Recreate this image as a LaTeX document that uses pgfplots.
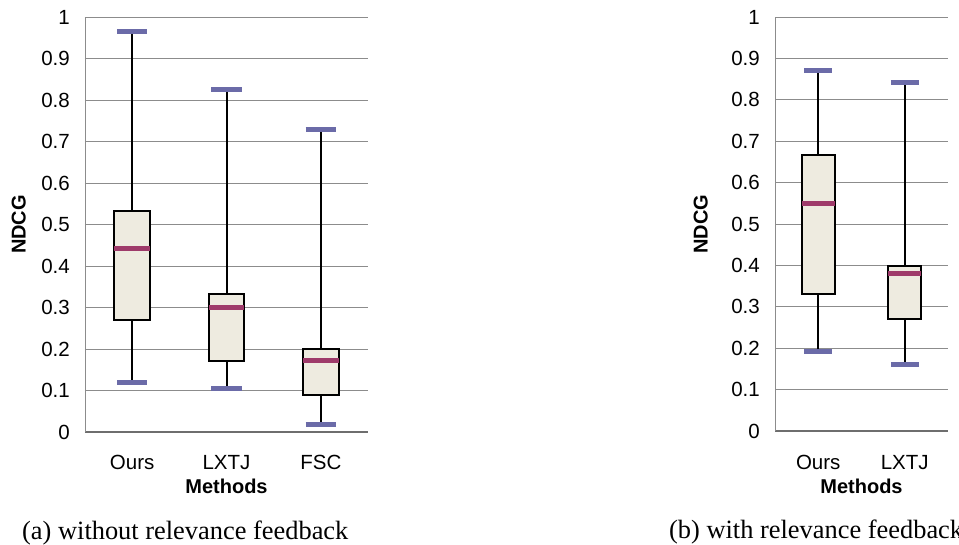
\documentclass[border=0pt]{standalone}
\usepackage{fontspec}
\setmainfont{Liberation Sans}
\newfontfamily\capfont{Liberation Serif}
\usepackage{pgfplots}
\pgfplotsset{compat=1.18}
\usepgfplotslibrary{statistics}
\definecolor{boxc}{HTML}{EEEBE0}
\definecolor{medc}{HTML}{9E3A6A}
\definecolor{capc}{HTML}{6B6BA8}
\definecolor{gridc}{HTML}{8C8C8C}
\definecolor{axc}{HTML}{6E6E6E}
\pgfplotsset{
  ndcg/.style={
    anchor=south west, scale only axis,
    ymin=0, ymax=1,
    ytick={0,0.1,0.2,0.3,0.4,0.5,0.6,0.7,0.8,0.9,1},
    major tick length=0pt,
    ymajorgrids, grid style={gridc, line width=0.8pt},
    axis x line*=bottom, axis y line*=left,
    x axis line style={-, draw=axc, line width=1.8pt},
    y axis line style={-, draw=gridc, line width=0.8pt},
    /pgf/number format/assume math mode=true,
    tick label style={font=\fontsize{20.5}{24}\selectfont},
    yticklabel style={anchor=east, inner sep=0pt, xshift=-15pt},
    xticklabel style={anchor=north, inner sep=0pt, yshift=-23pt},
    xlabel={Methods}, ylabel={NDCG},
    xlabel style={at={(axis description cs:0.5,0)}, anchor=north, inner sep=0pt, yshift=-47pt, font=\bfseries\fontsize{20}{24}\selectfont},
    ylabel style={anchor=south, inner sep=0pt, font=\bfseries\fontsize{20}{24}\selectfont},
    clip=false,
    boxplot/draw direction=y,
    boxplot/box extend=0.38,
    boxplot/whisker extend=0.32,
    boxplot/every box/.style={fill=boxc, draw=black, line width=2pt},
    boxplot/every median/.style={medc, line width=5pt},
    boxplot/draw/lower whisker/.code={%
      \draw[black, line width=2pt] (boxplot cs:\pgfplotsboxplotvalue{lower whisker}) -- (boxplot cs:\pgfplotsboxplotvalue{lower quartile});
      \draw[capc, line width=5pt] (boxplot whisker cs:\pgfplotsboxplotvalue{lower whisker},0) -- (boxplot whisker cs:\pgfplotsboxplotvalue{lower whisker},1);
    },
    boxplot/draw/upper whisker/.code={%
      \draw[black, line width=2pt] (boxplot cs:\pgfplotsboxplotvalue{upper whisker}) -- (boxplot cs:\pgfplotsboxplotvalue{upper quartile});
      \draw[capc, line width=5pt] (boxplot whisker cs:\pgfplotsboxplotvalue{upper whisker},0) -- (boxplot whisker cs:\pgfplotsboxplotvalue{upper whisker},1);
    },
  }
}
\begin{document}
\begin{tikzpicture}
% (a) without relevance feedback
\begin{axis}[ndcg,
  at={(85pt,112pt)}, width=283pt, height=415pt,
  xmin=0.5, xmax=3.5,
  xtick={1,2,3}, xticklabels={Ours,LXTJ,FSC},
  ylabel style={at={(axis description cs:-0.2085,0.5)}},
]
\addplot[black, boxplot prepared={draw position=1,
  lower whisker=0.120, lower quartile=0.270, median=0.443,
  upper quartile=0.533, upper whisker=0.965}] coordinates {};
\addplot[black, boxplot prepared={draw position=2,
  lower whisker=0.104, lower quartile=0.171, median=0.300,
  upper quartile=0.332, upper whisker=0.826}] coordinates {};
\addplot[black, boxplot prepared={draw position=3,
  lower whisker=0.018, lower quartile=0.089, median=0.173,
  upper quartile=0.199, upper whisker=0.728}] coordinates {};
\end{axis}
% (b) with relevance feedback
\begin{axis}[ndcg,
  at={(775pt,113pt)}, width=173pt, height=414pt,
  xmin=0.5, xmax=2.5,
  xtick={1,2}, xticklabels={Ours,LXTJ},
  xticklabel style={yshift=-1pt},
  xlabel style={yshift=-1pt},
  ylabel style={at={(axis description cs:-0.387,0.5)}},
]
\addplot[black, boxplot prepared={draw position=1,
  lower whisker=0.191, lower quartile=0.332, median=0.550,
  upper quartile=0.666, upper whisker=0.870}] coordinates {};
\addplot[black, boxplot prepared={draw position=2,
  lower whisker=0.160, lower quartile=0.271, median=0.381,
  upper quartile=0.399, upper whisker=0.841}] coordinates {};
\end{axis}
\node[anchor=base west, inner sep=0pt, font=\capfont\fontsize{26.4}{30}\selectfont] at (22pt,5pt) {(a) without relevance feedback};
\node[anchor=base west, inner sep=0pt, font=\capfont\fontsize{26.4}{30}\selectfont] at (669pt,6pt) {(b) with relevance feedback};
\pgfresetboundingbox
\path[use as bounding box] (0,0) rectangle (959pt,544pt);
\end{tikzpicture}
\end{document}
